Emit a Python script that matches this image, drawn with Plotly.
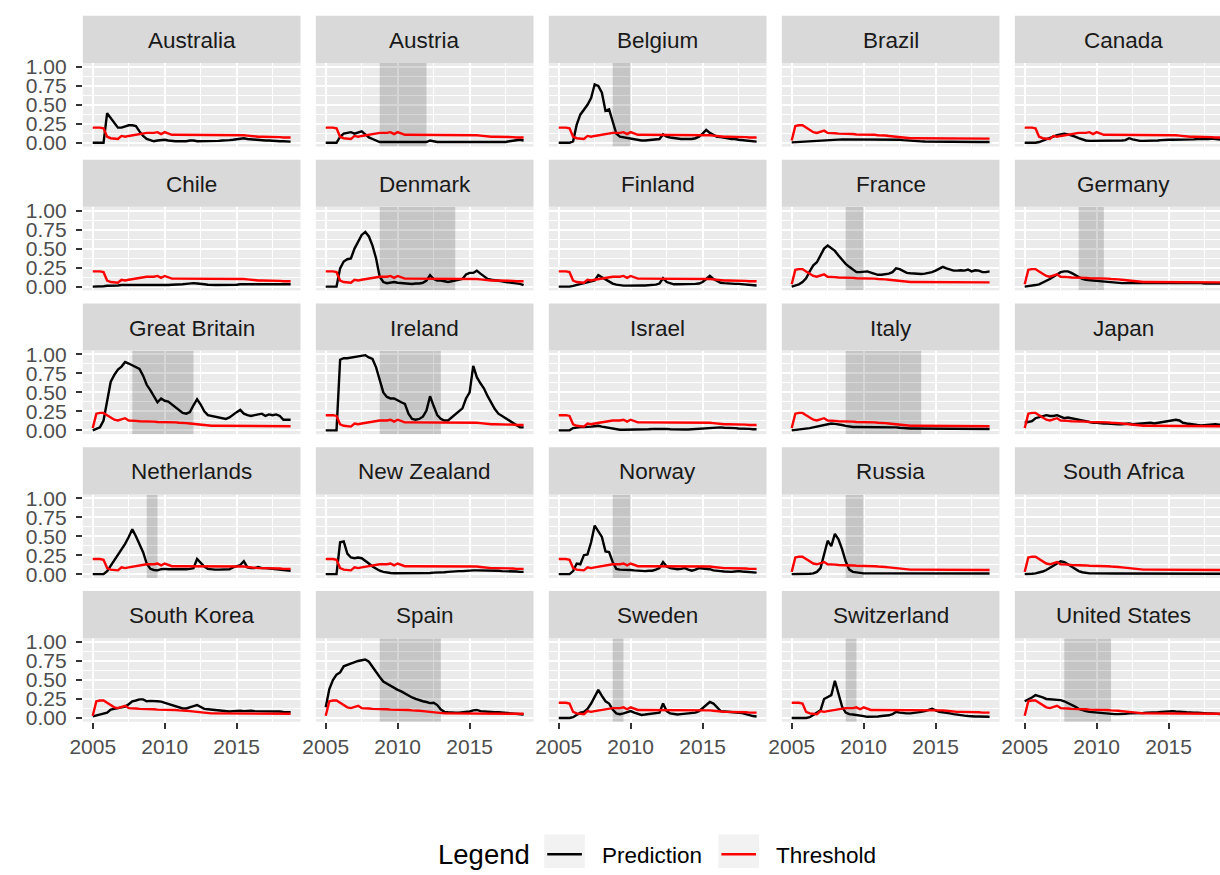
import plotly.graph_objects as go

# ---------------- data ----------------
quarters = [2005 + 0.25 * i for i in range(56)]  # 2005Q1 .. 2018Q4

countries = ["Australia", "Austria", "Belgium", "Brazil", "Canada",
             "Chile", "Denmark", "Finland", "France", "Germany",
             "Great Britain", "Ireland", "Israel", "Italy", "Japan",
             "Netherlands", "New Zealand", "Norway", "Russia", "South Africa",
             "South Korea", "Spain", "Sweden", "Switzerland", "United States"]

# threshold profiles (two shapes shared by the countries)
threshold_a = [0.20, 0.20, 0.20, 0.19,
               0.08, 0.06, 0.05, 0.05,
               0.09, 0.08, 0.09, 0.10,
               0.11, 0.11, 0.12, 0.13,
               0.13, 0.13, 0.14, 0.115,
               0.14, 0.12, 0.105, 0.105,
               0.105, 0.105, 0.105, 0.105,
               0.105, 0.105, 0.105, 0.105,
               0.105, 0.105, 0.105, 0.105,
               0.105, 0.105, 0.10, 0.10,
               0.10, 0.10, 0.10, 0.095,
               0.09, 0.08, 0.08, 0.08,
               0.08, 0.08, 0.075, 0.075,
               0.075, 0.07, 0.07, 0.07]
threshold_b = [0.03, 0.22, 0.23, 0.23,
               0.20, 0.17, 0.14, 0.13,
               0.14, 0.16, 0.13, 0.13,
               0.125, 0.12, 0.12, 0.12,
               0.115, 0.115, 0.11, 0.11,
               0.11, 0.11, 0.105, 0.105,
               0.10, 0.10, 0.095, 0.09,
               0.085, 0.08, 0.075, 0.065,
               0.06, 0.06, 0.06, 0.06,
               0.06, 0.06, 0.06, 0.06,
               0.06, 0.06, 0.06, 0.06,
               0.06, 0.055, 0.055, 0.055,
               0.055, 0.055, 0.055, 0.055,
               0.055, 0.055, 0.055, 0.055]
threshold_type = ["a", "a", "a", "b", "a",
                  "a", "a", "a", "b", "b",
                  "b", "a", "a", "b", "b",
                  "a", "a", "a", "b", "b",
                  "b", "b", "a", "a", "b"]

pred_australia = [0, 0, 0, 0,
                  0.39, 0.33, 0.26, 0.20,
                  0.20, 0.22, 0.23, 0.23,
                  0.22, 0.15, 0.09, 0.05,
                  0.03, 0.02, 0.03, 0.04,
                  0.04, 0.03, 0.02, 0.02,
                  0.02, 0.02, 0.02, 0.03,
                  0.03, 0.02, 0.02, 0.02,
                  0.02, 0.02, 0.02, 0.025,
                  0.03, 0.03, 0.035, 0.04,
                  0.045, 0.05, 0.06, 0.05,
                  0.045, 0.04, 0.035, 0.03,
                  0.03, 0.03, 0.025, 0.02,
                  0.02, 0.02, 0.015, 0.015]
pred_austria = [0, 0, 0, 0,
                0.08, 0.12, 0.13, 0.14,
                0.12, 0.14, 0.15, 0.11,
                0.07, 0.05, 0.03, 0.01,
                0.01, 0.01, 0.01, 0.01,
                0.01, 0.01, 0.01, 0.01,
                0.01, 0.01, 0.01, 0.01,
                0.01, 0.03, 0.015, 0.01,
                0.01, 0.01, 0.01, 0.01,
                0.01, 0.01, 0.01, 0.01,
                0.01, 0.01, 0.01, 0.01,
                0.01, 0.01, 0.01, 0.01,
                0.01, 0.01, 0.01, 0.02,
                0.025, 0.035, 0.04, 0.03]
pred_belgium = [0, 0, 0, 0,
                0.02, 0.24, 0.37, 0.43,
                0.50, 0.59, 0.77, 0.75,
                0.66, 0.42, 0.44, 0.28,
                0.12, 0.08, 0.07, 0.07,
                0.06, 0.04, 0.03, 0.03,
                0.03, 0.035, 0.035, 0.04,
                0.05, 0.11, 0.08, 0.07,
                0.06, 0.055, 0.05, 0.05,
                0.05, 0.05, 0.06, 0.08,
                0.12, 0.17, 0.13, 0.10,
                0.08, 0.075, 0.07, 0.06,
                0.05, 0.05, 0.04, 0.035,
                0.03, 0.025, 0.02, 0.015]
pred_brazil = [0.005, 0.007, 0.01, 0.012,
               0.015, 0.017, 0.02, 0.022,
               0.025, 0.028, 0.03, 0.035,
               0.04, 0.042, 0.045, 0.045,
               0.04, 0.04, 0.04, 0.042,
               0.045, 0.045, 0.04, 0.04,
               0.045, 0.045, 0.045, 0.045,
               0.045, 0.04, 0.04, 0.035,
               0.03, 0.025, 0.022, 0.02,
               0.018, 0.016, 0.015, 0.014,
               0.013, 0.012, 0.012, 0.011,
               0.011, 0.011, 0.01, 0.01,
               0.01, 0.01, 0.01, 0.01,
               0.01, 0.01, 0.01, 0.01]
pred_canada = [0, 0, 0, 0,
               0.01, 0.03, 0.04, 0.06,
               0.08, 0.10, 0.11, 0.12,
               0.11, 0.10, 0.08, 0.06,
               0.04, 0.03, 0.025, 0.025,
               0.03, 0.03, 0.025, 0.025,
               0.025, 0.025, 0.025, 0.03,
               0.035, 0.06, 0.045, 0.03,
               0.025, 0.025, 0.025, 0.03,
               0.03, 0.03, 0.035, 0.04,
               0.04, 0.04, 0.04, 0.04,
               0.04, 0.04, 0.04, 0.045,
               0.05, 0.05, 0.045, 0.05,
               0.055, 0.05, 0.045, 0.04]
pred_chile = [0, 0, 0.005, 0.005,
              0.01, 0.01, 0.015, 0.015,
              0.02, 0.02, 0.015, 0.015,
              0.02, 0.02, 0.015, 0.02,
              0.02, 0.015, 0.015, 0.02,
              0.02, 0.02, 0.025, 0.025,
              0.03, 0.03, 0.035, 0.04,
              0.045, 0.04, 0.03, 0.03,
              0.025, 0.02, 0.02, 0.02,
              0.02, 0.02, 0.02, 0.025,
              0.025, 0.03, 0.03, 0.025,
              0.025, 0.025, 0.025, 0.03,
              0.03, 0.03, 0.03, 0.03,
              0.03, 0.03, 0.03, 0.03]
pred_denmark = [0, 0, 0, 0,
                0.24, 0.33, 0.36, 0.37,
                0.50, 0.60, 0.68, 0.72,
                0.66, 0.54, 0.37, 0.13,
                0.06, 0.045, 0.05, 0.06,
                0.05, 0.045, 0.04, 0.04,
                0.035, 0.04, 0.04, 0.05,
                0.08, 0.15, 0.10, 0.08,
                0.08, 0.07, 0.06, 0.07,
                0.08, 0.09, 0.10, 0.16,
                0.18, 0.18, 0.21, 0.17,
                0.13, 0.10, 0.09, 0.085,
                0.08, 0.07, 0.06, 0.055,
                0.05, 0.045, 0.035, 0.02]
pred_finland = [0, 0, 0, 0,
                0.01, 0.02, 0.035, 0.05,
                0.06, 0.07, 0.08, 0.15,
                0.12, 0.09, 0.06, 0.04,
                0.025, 0.015, 0.012, 0.012,
                0.015, 0.015, 0.015, 0.015,
                0.015, 0.02, 0.02, 0.025,
                0.04, 0.11, 0.06, 0.04,
                0.03, 0.03, 0.03, 0.03,
                0.03, 0.03, 0.035, 0.04,
                0.06, 0.10, 0.14, 0.10,
                0.07, 0.05, 0.045, 0.04,
                0.04, 0.035, 0.035, 0.03,
                0.025, 0.02, 0.02, 0.015]
pred_france = [0.0, 0.01, 0.03, 0.06,
               0.11, 0.20, 0.28, 0.32,
               0.41, 0.50, 0.54, 0.51,
               0.47, 0.41, 0.35, 0.30,
               0.26, 0.22, 0.19, 0.19,
               0.20, 0.20, 0.185, 0.17,
               0.155, 0.155, 0.16, 0.17,
               0.19, 0.24, 0.23, 0.20,
               0.18, 0.175, 0.17, 0.165,
               0.165, 0.17, 0.175, 0.19,
               0.21, 0.24, 0.26, 0.24,
               0.22, 0.21, 0.21, 0.215,
               0.21, 0.225, 0.20, 0.215,
               0.21, 0.19, 0.19, 0.20]
pred_germany = [0.0, 0.005, 0.01, 0.02,
                0.03, 0.05, 0.07, 0.10,
                0.13, 0.16, 0.19, 0.20,
                0.20, 0.18, 0.15, 0.12,
                0.10, 0.09, 0.08, 0.08,
                0.075, 0.07, 0.065, 0.06,
                0.055, 0.05, 0.05, 0.045,
                0.045, 0.05, 0.05, 0.045,
                0.045, 0.045, 0.045, 0.045,
                0.045, 0.045, 0.045, 0.045,
                0.045, 0.045, 0.05, 0.05,
                0.045, 0.045, 0.045, 0.045,
                0.045, 0.045, 0.04, 0.04,
                0.04, 0.04, 0.04, 0.04]
pred_great_britain = [0.0, 0.02, 0.04, 0.13,
                      0.40, 0.64, 0.73, 0.80,
                      0.84, 0.90, 0.88, 0.86,
                      0.84, 0.81, 0.72, 0.60,
                      0.53, 0.45, 0.37, 0.42,
                      0.39, 0.38, 0.34, 0.30,
                      0.26, 0.23, 0.22, 0.24,
                      0.33, 0.41, 0.34, 0.25,
                      0.20, 0.19, 0.18, 0.17,
                      0.16, 0.15, 0.17, 0.21,
                      0.24, 0.27, 0.22, 0.20,
                      0.19, 0.20, 0.21, 0.22,
                      0.19, 0.21, 0.20, 0.21,
                      0.19, 0.14, 0.14, 0.14]
pred_ireland = [0, 0, 0, 0,
                0.93, 0.95, 0.95, 0.96,
                0.96, 0.97, 0.98, 0.99,
                0.96, 0.94, 0.83, 0.66,
                0.50, 0.44, 0.42, 0.42,
                0.39, 0.37, 0.35, 0.22,
                0.15, 0.14, 0.15, 0.18,
                0.26, 0.45, 0.32, 0.20,
                0.15, 0.13, 0.13, 0.17,
                0.20, 0.25, 0.29, 0.42,
                0.50, 0.85, 0.70, 0.62,
                0.55, 0.45, 0.36, 0.28,
                0.22, 0.19, 0.15, 0.12,
                0.09, 0.06, 0.04, 0.04]
pred_israel = [0, 0, 0, 0,
               0.03, 0.04, 0.045, 0.045,
               0.045, 0.05, 0.055, 0.06,
               0.05, 0.04, 0.03, 0.02,
               0.01, 0.008, 0.008, 0.008,
               0.01, 0.01, 0.012, 0.012,
               0.015, 0.015, 0.018, 0.02,
               0.02, 0.025, 0.02, 0.015,
               0.012, 0.012, 0.012, 0.012,
               0.012, 0.015, 0.015, 0.02,
               0.025, 0.03, 0.035, 0.035,
               0.04, 0.04, 0.035, 0.035,
               0.03, 0.03, 0.025, 0.025,
               0.02, 0.02, 0.015, 0.015]
pred_italy = [0.0, 0.005, 0.01, 0.015,
              0.02, 0.03, 0.04, 0.05,
              0.065, 0.08, 0.085, 0.09,
              0.085, 0.08, 0.07, 0.06,
              0.05, 0.045, 0.045, 0.045,
              0.045, 0.045, 0.04, 0.04,
              0.04, 0.04, 0.04, 0.04,
              0.04, 0.04, 0.035, 0.03,
              0.03, 0.025, 0.025, 0.025,
              0.025, 0.022, 0.022, 0.02,
              0.02, 0.02, 0.02, 0.02,
              0.02, 0.02, 0.02, 0.02,
              0.02, 0.02, 0.018, 0.018,
              0.018, 0.018, 0.017, 0.017]
pred_japan = [0.10, 0.11, 0.12, 0.16,
              0.17, 0.19, 0.20, 0.19,
              0.19, 0.20, 0.18, 0.16,
              0.17, 0.16, 0.14, 0.13,
              0.12, 0.11, 0.11, 0.10,
              0.10, 0.09, 0.09, 0.09,
              0.085, 0.08, 0.08, 0.08,
              0.085, 0.09, 0.08, 0.085,
              0.09, 0.09, 0.10, 0.10,
              0.09, 0.10, 0.11, 0.12,
              0.13, 0.14, 0.14, 0.13,
              0.10, 0.09, 0.08, 0.07,
              0.07, 0.065, 0.07, 0.075,
              0.08, 0.08, 0.075, 0.07]
pred_netherlands = [0, 0, 0, 0,
                    0.04, 0.11, 0.19, 0.26,
                    0.33, 0.40, 0.49, 0.59,
                    0.50, 0.39, 0.29, 0.14,
                    0.07, 0.055, 0.05, 0.065,
                    0.07, 0.065, 0.065, 0.06,
                    0.06, 0.065, 0.065, 0.07,
                    0.08, 0.20, 0.15, 0.10,
                    0.07, 0.06, 0.06, 0.06,
                    0.06, 0.06, 0.065, 0.09,
                    0.10, 0.12, 0.17, 0.09,
                    0.08, 0.08, 0.095, 0.08,
                    0.08, 0.075, 0.07, 0.07,
                    0.065, 0.055, 0.05, 0.045]
pred_new_zealand = [0, 0, 0, 0,
                    0.42, 0.43, 0.27, 0.22,
                    0.21, 0.22, 0.21, 0.18,
                    0.14, 0.10, 0.07, 0.045,
                    0.03, 0.02, 0.015, 0.012,
                    0.012, 0.01, 0.01, 0.01,
                    0.012, 0.012, 0.012, 0.015,
                    0.015, 0.015, 0.02, 0.02,
                    0.025, 0.025, 0.03, 0.035,
                    0.04, 0.04, 0.04, 0.045,
                    0.05, 0.05, 0.05, 0.05,
                    0.05, 0.045, 0.045, 0.045,
                    0.045, 0.04, 0.04, 0.04,
                    0.035, 0.035, 0.03, 0.03]
pred_norway = [0, 0, 0, 0,
               0.04, 0.14, 0.13, 0.25,
               0.26, 0.42, 0.64, 0.57,
               0.49, 0.30, 0.29, 0.16,
               0.07, 0.06, 0.06, 0.055,
               0.055, 0.05, 0.045, 0.04,
               0.04, 0.045, 0.045, 0.06,
               0.08, 0.16, 0.10, 0.08,
               0.07, 0.065, 0.07, 0.08,
               0.06, 0.045, 0.06, 0.08,
               0.075, 0.07, 0.065, 0.05,
               0.04, 0.04, 0.035, 0.03,
               0.03, 0.035, 0.04, 0.035,
               0.03, 0.025, 0.02, 0.02]
pred_russia = [0, 0, 0, 0,
               0, 0.005, 0.01, 0.03,
               0.08, 0.25, 0.44, 0.37,
               0.53, 0.46, 0.33, 0.17,
               0.06, 0.03, 0.02, 0.015,
               0.01, 0.01, 0.01, 0.01,
               0.01, 0.01, 0.01, 0.01,
               0.01, 0.012, 0.012, 0.01,
               0.01, 0.01, 0.01, 0.01,
               0.01, 0.012, 0.015, 0.012,
               0.01, 0.01, 0.01, 0.01,
               0.01, 0.01, 0.01, 0.01,
               0.008, 0.008, 0.008, 0.008,
               0.008, 0.008, 0.008, 0.008]
pred_south_africa = [0, 0, 0.005, 0.01,
                     0.02, 0.035, 0.055, 0.08,
                     0.11, 0.14, 0.17, 0.16,
                     0.13, 0.10, 0.065, 0.04,
                     0.025, 0.015, 0.01, 0.01,
                     0.008, 0.008, 0.008, 0.008,
                     0.008, 0.008, 0.008, 0.008,
                     0.008, 0.008, 0.008, 0.008,
                     0.008, 0.008, 0.008, 0.008,
                     0.008, 0.008, 0.008, 0.008,
                     0.006, 0.006, 0.006, 0.006,
                     0.006, 0.006, 0.006, 0.006,
                     0.005, 0.005, 0.005, 0.005,
                     0.005, 0.005, 0.005, 0.005]
pred_south_korea = [0.02, 0.03, 0.045, 0.05,
                    0.07, 0.11, 0.12, 0.125,
                    0.13, 0.15, 0.18, 0.22,
                    0.23, 0.245, 0.245, 0.22,
                    0.225, 0.225, 0.22, 0.215,
                    0.20, 0.18, 0.16, 0.145,
                    0.13, 0.125, 0.125, 0.135,
                    0.155, 0.17, 0.14, 0.12,
                    0.115, 0.11, 0.105, 0.10,
                    0.095, 0.09, 0.085, 0.09,
                    0.095, 0.095, 0.09, 0.095,
                    0.095, 0.09, 0.09, 0.09,
                    0.085, 0.09, 0.09, 0.085,
                    0.085, 0.08, 0.075, 0.075]
pred_spain = [0.14, 0.38, 0.50, 0.57,
              0.60, 0.68, 0.70, 0.72,
              0.74, 0.75, 0.76, 0.77,
              0.74, 0.67, 0.60, 0.54,
              0.48, 0.45, 0.42, 0.39,
              0.37, 0.35, 0.32, 0.30,
              0.27, 0.25, 0.23, 0.22,
              0.21, 0.195, 0.20, 0.17,
              0.11, 0.08, 0.075, 0.07,
              0.07, 0.07, 0.075, 0.08,
              0.085, 0.10, 0.105, 0.09,
              0.085, 0.08, 0.08, 0.075,
              0.075, 0.07, 0.07, 0.065,
              0.06, 0.055, 0.05, 0.045]
pred_sweden = [0, 0, 0, 0,
               0.01, 0.04, 0.07, 0.08,
               0.12, 0.19, 0.29, 0.37,
               0.29, 0.22, 0.19, 0.11,
               0.06, 0.05, 0.06, 0.08,
               0.09, 0.07, 0.05, 0.04,
               0.045, 0.05, 0.06, 0.06,
               0.07, 0.19, 0.09, 0.06,
               0.05, 0.045, 0.05, 0.055,
               0.055, 0.06, 0.07, 0.09,
               0.13, 0.17, 0.21, 0.19,
               0.14, 0.09, 0.085, 0.08,
               0.08, 0.075, 0.07, 0.065,
               0.05, 0.035, 0.025, 0.02]
pred_switzerland = [0, 0, 0, 0,
                    0.0, 0.01, 0.04, 0.07,
                    0.10, 0.25, 0.28, 0.30,
                    0.49, 0.30, 0.15, 0.07,
                    0.05, 0.045, 0.04, 0.035,
                    0.025, 0.015, 0.015, 0.02,
                    0.02, 0.025, 0.03, 0.035,
                    0.05, 0.08, 0.07, 0.06,
                    0.06, 0.06, 0.065, 0.07,
                    0.08, 0.09, 0.10, 0.12,
                    0.10, 0.08, 0.075, 0.07,
                    0.06, 0.05, 0.04, 0.035,
                    0.03, 0.025, 0.02, 0.02,
                    0.02, 0.02, 0.015, 0.015]
pred_united_states = [0.22, 0.24, 0.27, 0.30,
                      0.29, 0.27, 0.25, 0.245,
                      0.24, 0.24, 0.235, 0.22,
                      0.20, 0.18, 0.15, 0.12,
                      0.10, 0.09, 0.08, 0.075,
                      0.07, 0.065, 0.06, 0.055,
                      0.05, 0.05, 0.05, 0.05,
                      0.055, 0.06, 0.06, 0.06,
                      0.065, 0.065, 0.07, 0.07,
                      0.075, 0.075, 0.08, 0.085,
                      0.09, 0.09, 0.085, 0.085,
                      0.08, 0.075, 0.07, 0.07,
                      0.07, 0.065, 0.065, 0.06,
                      0.06, 0.055, 0.055, 0.05]

predictions = [pred_australia, pred_austria, pred_belgium, pred_brazil, pred_canada,
               pred_chile, pred_denmark, pred_finland, pred_france, pred_germany,
               pred_great_britain, pred_ireland, pred_israel, pred_italy, pred_japan,
               pred_netherlands, pred_new_zealand, pred_norway, pred_russia, pred_south_africa,
               pred_south_korea, pred_spain, pred_sweden, pred_switzerland, pred_united_states]

# crisis periods (shaded)
crisis_country = ["Austria", "Belgium", "Denmark", "France", "Germany",
                  "Great Britain", "Ireland", "Italy", "Netherlands", "Norway",
                  "Russia", "Spain", "Sweden", "Switzerland", "United States"]
crisis_start = [2008.75, 2008.75, 2008.75, 2008.75, 2008.75,
                2007.75, 2008.75, 2008.75, 2008.75, 2008.75,
                2008.75, 2008.75, 2008.75, 2008.75, 2007.75]
crisis_end = [2012.0, 2010.0, 2014.0, 2010.0, 2010.5,
              2012.0, 2013.0, 2014.0, 2009.5, 2010.0,
              2010.0, 2013.0, 2009.5, 2009.5, 2011.0]

y_tick_vals = [0, 0.25, 0.5, 0.75, 1.0]
y_tick_text = ["0.00", "0.25", "0.50", "0.75", "1.00"]
x_tick_vals = [2005, 2010, 2015]
x_tick_text = ["2005", "2010", "2015"]
legend_labels = ["Prediction", "Threshold"]
legend_colors = ["#000000", "#FF0000"]

for p in predictions:
    assert len(p) == 56
assert len(threshold_a) == 56 and len(threshold_b) == 56

# ---------------- geometry (pixel positions in the 1220x875 window) ----------------
W, H = 1220, 875


def px(X):
    return X / W


def py(Y):
    return 1 - Y / H


col_left0, col_pitch, panel_w = 70.6, 235.5, 220.0
strip_top0, row_pitch, strip_h, panel_h = 8.0, 146.3, 48.0, 85.0
x_lo, x_hi = 2004.3125, 2019.4375
y_lo, y_hi = -0.05, 1.05

FONT = "Liberation Sans, Arial, Helvetica, sans-serif"

fig = go.Figure()
layout = {}
shapes = []
annotations = []

for k, name in enumerate(countries):
    r, c = divmod(k, 5)
    n = k + 1
    xa = "x" if n == 1 else f"x{n}"
    ya = "y" if n == 1 else f"y{n}"
    left = col_left0 + c * col_pitch
    right = left + panel_w
    xr = [x_lo, x_hi]
    right_dom = right
    if right > W:
        xr = [x_lo, x_lo + (x_hi - x_lo) * (W - left) / panel_w]
        right_dom = W
    strip_top = strip_top0 + r * row_pitch
    panel_top = strip_top + strip_h
    panel_bot = panel_top + panel_h

    bottom_row = (r == 4)
    left_col = (c == 0)

    layout["xaxis" if n == 1 else f"xaxis{n}"] = dict(
        domain=[px(left), min(1.0, px(right_dom))], range=xr, anchor=ya,
        tickmode="array", tickvals=x_tick_vals, ticktext=x_tick_text,
        showgrid=True, gridcolor="white", gridwidth=2.2,
        minor=dict(tickmode="array", tickvals=[2007.5, 2012.5, 2017.5],
                   showgrid=True, gridcolor="white", gridwidth=1.1),
        zeroline=False, showline=False,
        ticks="outside" if bottom_row else "", ticklen=6, tickwidth=2, tickcolor="#333333",
        showticklabels=bottom_row,
        tickfont=dict(family=FONT, size=21, color="#4D4D4D"),
        fixedrange=True,
    )
    layout["yaxis" if n == 1 else f"yaxis{n}"] = dict(
        domain=[py(panel_bot), py(panel_top)], range=[y_lo, y_hi], anchor=xa,
        tickmode="array", tickvals=y_tick_vals, ticktext=y_tick_text,
        showgrid=True, gridcolor="white", gridwidth=2.2,
        minor=dict(tickmode="array", tickvals=[0.125, 0.375, 0.625, 0.875],
                   showgrid=True, gridcolor="white", gridwidth=1.1),
        zeroline=False, showline=False,
        ticks="outside" if left_col else "", ticklen=6, tickwidth=2, tickcolor="#333333",
        showticklabels=left_col, ticklabelstandoff=5,
        tickfont=dict(family=FONT, size=21, color="#4D4D4D"),
        fixedrange=True,
    )

    # crisis shading (drawn as a filled trace: above the grid, below the lines)
    if name in crisis_country:
        j = crisis_country.index(name)
        s, e = crisis_start[j], crisis_end[j]
        fig.add_trace(go.Scatter(x=[s, e, e, s, s], y=[y_lo, y_lo, y_hi, y_hi, y_lo],
                                 mode="lines", fill="toself",
                                 fillcolor="rgba(0,0,0,0.16)", line=dict(width=0),
                                 hoverinfo="skip", showlegend=False,
                                 xaxis=xa, yaxis=ya))

    thr = threshold_a if threshold_type[k] == "a" else threshold_b
    fig.add_trace(go.Scatter(x=quarters, y=predictions[k], mode="lines",
                             line=dict(color=legend_colors[0], width=2.4),
                             name=legend_labels[0], legendgroup=legend_labels[0],
                             showlegend=False, xaxis=xa, yaxis=ya))
    fig.add_trace(go.Scatter(x=quarters, y=thr, mode="lines",
                             line=dict(color=legend_colors[1], width=2.4),
                             name=legend_labels[1], legendgroup=legend_labels[1],
                             showlegend=False, xaxis=xa, yaxis=ya))

    # strip
    shapes.append(dict(type="rect", xref="paper", yref="paper",
                       x0=px(left), x1=px(right),
                       y0=py(strip_top + strip_h), y1=py(strip_top),
                       fillcolor="#D9D9D9", line=dict(width=0), layer="above"))
    annotations.append(dict(text=name, xref="paper", yref="paper",
                            x=px(left + panel_w / 2), y=py(strip_top + strip_h / 2 + 1),
                            xanchor="center", yanchor="middle", showarrow=False,
                            font=dict(family=FONT, size=22.5, color="#1A1A1A")))

# ---------------- legend (drawn as keys + texts) ----------------
annotations.append(dict(text="Legend", xref="paper", yref="paper",
                        x=px(428), y=py(861), xanchor="left", yanchor="middle",
                        showarrow=False, font=dict(family=FONT, size=27.5, color="#000000")))
key_left = [537, 713]
text_left = [593, 769]
for i in range(2):
    shapes.append(dict(type="rect", xref="paper", yref="paper",
                       x0=px(key_left[i]), x1=px(key_left[i] + 41),
                       y0=py(H), y1=py(841),
                       fillcolor="#F2F2F2", line=dict(width=0), layer="above"))
    shapes.append(dict(type="line", xref="paper", yref="paper",
                       x0=px(key_left[i] + 3), x1=px(key_left[i] + 38),
                       y0=py(861), y1=py(861),
                       line=dict(color=legend_colors[i], width=2.6), layer="above"))
    annotations.append(dict(text=legend_labels[i], xref="paper", yref="paper",
                            x=px(text_left[i]), y=py(862), xanchor="left", yanchor="middle",
                            showarrow=False, font=dict(family=FONT, size=22.5, color="#000000")))

fig.update_layout(**layout)
fig.update_layout(
    width=W, height=H,
    margin=dict(l=0, r=0, t=0, b=0),
    paper_bgcolor="white", plot_bgcolor="#EBEBEB",
    font=dict(family=FONT, color="#000000"),
    shapes=shapes, annotations=annotations,
    showlegend=False,
)

fig.write_html("out.html", config={"displayModeBar": False},
               post_script="document.body.style.margin='0';document.body.style.overflow='hidden';")
